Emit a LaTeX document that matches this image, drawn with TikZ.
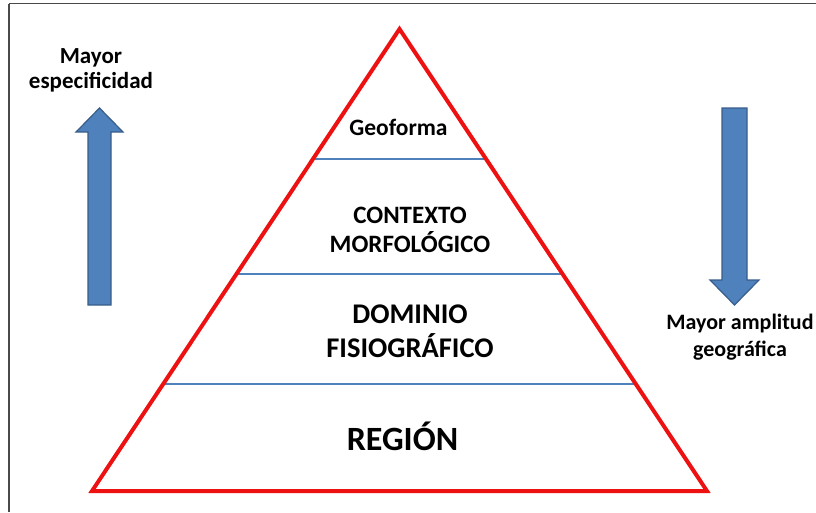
\documentclass[tikz,border=0pt]{standalone}
\usepackage{fontspec}
\setmainfont{Carlito}[BoldFont = {Carlito Bold}]
\definecolor{pyramidred}{HTML}{EE1111}
\definecolor{levelblue}{HTML}{4F81BD}
\definecolor{arrowedge}{HTML}{385D8A}
\definecolor{frame}{HTML}{4A4A4A}

\begin{document}
\begin{tikzpicture}[x = 1pt, y = -1pt, line join = miter,
  levelline/.style = {levelblue, line width = 2pt},
  blockarrow/.style = {fill = levelblue, draw = arrowedge, line width = 1.2pt},
  leveltext/.style = {align = center, anchor = base, inner sep = 0pt}]
\useasboundingbox (0, 0) rectangle (816, 512);
% Frame
\draw[frame, line width = 1.5pt](9, 3.5) -- (816, 3.5);
\draw[frame, line width = 1.5pt](9, 3.5) -- (9, 512);
% Level lines
\draw[levelline](312.8, 159) -- (486.4, 159);
\draw[levelline](236.2, 274) -- (562.3, 274);
\draw[levelline](162.8, 384) -- (635.4, 384);
% Pyramid
\draw[pyramidred, line width = 4pt](399.5, 29) -- (707, 491) -- (92, 491) -- cycle;
% Arrows
\draw[blockarrow](88, 305) -- (88, 132) -- (76, 132) -- (99.5, 108) -- (123, 132)
  -- (111, 132) -- (111, 305) -- cycle;
\draw[blockarrow](722, 108) -- (722, 280) -- (710, 280) -- (734.5, 305) -- (759, 280)
  -- (747, 280) -- (747, 108) -- cycle;
% Texts (base = baseline of the last line)
\node[leveltext, font = \bfseries\fontsize{23}{25}\selectfont] (specific) at (91, 88)
  {Mayor\\especificidad};
\node[leveltext, font = \bfseries\fontsize{22}{27}\selectfont] (amplitude) at (740, 356)
  {Mayor amplitud\\geográfica};
\node[leveltext, font = \bfseries\fontsize{23.5}{28}\selectfont] (geoforma) at (398.5, 135)
  {Geoforma};
\node[leveltext, font = \bfseries\fontsize{25}{29}\selectfont] (contexto) at (410, 252)
  {CONTEXTO\\MORFOLÓGICO};
\node[leveltext, font = \bfseries\fontsize{28.5}{34}\selectfont] (dominio) at (410, 357)
  {DOMINIO\\FISIOGRÁFICO};
\node[leveltext, font = \bfseries\fontsize{34}{40}\selectfont] (region) at (402.5, 450)
  {REGIÓN};
\end{tikzpicture}
\end{document}
